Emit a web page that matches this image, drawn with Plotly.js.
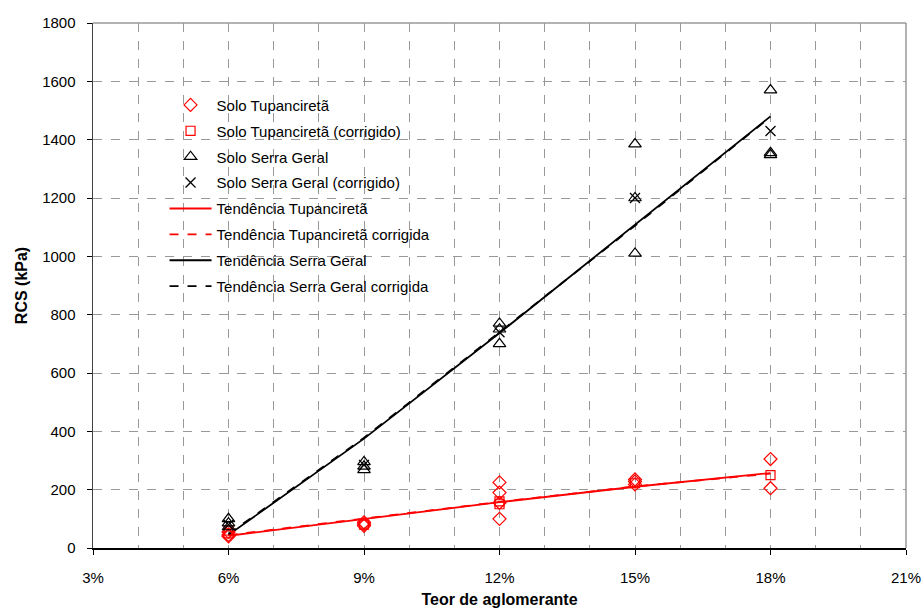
<!DOCTYPE html>
<html>
<head>
<meta charset="utf-8">
<script src="https://cdn.plot.ly/plotly-3.0.1.min.js"></script>
<style>html,body{margin:0;padding:0;background:#fff;}#chart{width:924px;height:612px;}</style>
</head>
<body>
<div id="chart"></div>
<script>
// Data
var tupX = [0.06, 0.06, 0.06, 0.09, 0.09, 0.09, 0.12, 0.12, 0.12, 0.12, 0.15, 0.15, 0.15, 0.18, 0.18];
var tupY = [55, 45, 40, 88, 82, 76, 225, 190, 155, 100, 235, 228, 218, 305, 205];
var tupCorrX = [0.06, 0.06, 0.09, 0.12, 0.12, 0.15, 0.18];
var tupCorrY = [60, 50, 80, 160, 150, 222, 250];
var sgX = [0.06, 0.06, 0.06, 0.09, 0.09, 0.09, 0.12, 0.12, 0.12, 0.15, 0.15, 0.15, 0.18, 0.18, 0.18];
var sgY = [100, 85, 72, 295, 280, 268, 770, 750, 700, 1385, 1200, 1010, 1570, 1355, 1348];
var sgCorrX = [0.06, 0.09, 0.12, 0.15, 0.18];
var sgCorrY = [80, 285, 740, 1200, 1430];

var trendX = [0.06, 0.09, 0.12, 0.15, 0.18];
var trendTup = [42, 100, 157, 210, 257];
var trendTupCorr = [44, 102, 158, 211, 255];
var trendSG = [45, 375, 737, 1108, 1480];
var trendSGCorr = [48, 378, 740, 1105, 1478];

var names = ["Solo Tupanciretã", "Solo Tupanciretã (corrigido)", "Solo Serra Geral", "Solo Serra Geral (corrigido)",
  "Tendência Tupanciretã", "Tendência Tupanciretã corrigida", "Tendência Serra Geral", "Tendência Serra Geral corrigida"];

var data = [
  {x: trendX, y: trendTup, mode: "lines", name: names[4], legendrank: 5, legendgroup: "g5",
   line: {color: "#ff0000", width: 1.8}},
  {x: trendX, y: trendTupCorr, mode: "lines", name: names[5], legendrank: 6, legendgroup: "g6",
   line: {color: "#ff0000", width: 1.8, dash: "dash"}},
  {x: trendX, y: trendSG, mode: "lines", name: names[6], legendrank: 7, legendgroup: "g7",
   line: {color: "#000000", width: 1.8}},
  {x: trendX, y: trendSGCorr, mode: "lines", name: names[7], legendrank: 8, legendgroup: "g8",
   line: {color: "#000000", width: 1.8, dash: "dash"}},
  {x: tupX, y: tupY, mode: "markers", name: names[0], legendrank: 1, legendgroup: "g1",
   marker: {symbol: "diamond-open", size: 10, color: "#ff0000", line: {width: 1.2}}},
  {x: tupCorrX, y: tupCorrY, mode: "markers", name: names[1], legendrank: 2, legendgroup: "g2",
   marker: {symbol: "square-open", size: 9, color: "#ff0000", line: {width: 1.2}}},
  {x: sgX, y: sgY, mode: "markers", name: names[2], legendrank: 3, legendgroup: "g3",
   marker: {symbol: "triangle-up-open", size: 11, color: "#000000", line: {width: 1.2}}},
  {x: sgCorrX, y: sgCorrY, mode: "markers", name: names[3], legendrank: 4, legendgroup: "g4",
   marker: {symbol: "x-thin-open", size: 10, color: "#000000", line: {width: 1.3}}}
];

var font = "Liberation Sans, Arial, sans-serif";
var layout = {
  width: 924, height: 612,
  margin: {l: 93, r: 18, t: 23, b: 64},
  paper_bgcolor: "#ffffff", plot_bgcolor: "#ffffff",
  font: {family: font, size: 15, color: "#000000"},
  showlegend: true,
  legend: {x: 0.088, y: 0.875, xanchor: "left", yanchor: "top", bgcolor: "rgba(0,0,0,0)",
    font: {family: font, size: 15, color: "#000000"}, tracegroupgap: 3.4, itemwidth: 42},
  xaxis: {
    range: [0.03, 0.21], dtick: 0.03, tick0: 0.03, tickformat: ".0%",
    showgrid: true, gridcolor: "#999999", griddash: "dash", gridwidth: 1,
    minor: {dtick: 0.01, showgrid: true, gridcolor: "#999999", griddash: "dash", gridwidth: 1, ticks: ""},
    showline: true, linecolor: "#000000", linewidth: 1.5,
    ticks: "outside", ticklen: 5, tickcolor: "#000000", ticklabelstandoff: 10,
    zeroline: false, fixedrange: true,
    tickfont: {family: font, size: 15, color: "#000000"},
    title: {text: "<b>Teor de aglomerante</b>", font: {family: font, size: 16, color: "#000000"}, standoff: 9}
  },
  yaxis: {
    range: [0, 1800], dtick: 200, tick0: 0,
    showgrid: true, gridcolor: "#999999", griddash: "dash", gridwidth: 1,
    showline: true, linecolor: "#404040", linewidth: 1.5,
    ticks: "outside", ticklen: 5, tickcolor: "#000000", ticklabelstandoff: 8,
    zeroline: false, fixedrange: true,
    tickfont: {family: font, size: 15, color: "#000000"},
    title: {text: "<b>RCS (kPa)</b>", font: {family: font, size: 16, color: "#000000"}, standoff: 10}
  },
  shapes: [
    {type: "line", xref: "paper", yref: "paper", x0: 0, x1: 1, y0: 1, y1: 1, line: {color: "#999999", width: 1.5}},
    {type: "line", xref: "paper", yref: "paper", x0: 1, x1: 1, y0: 0, y1: 1, line: {color: "#999999", width: 1.5}}
  ]
};

Plotly.newPlot("chart", data, layout, {displayModeBar: false, staticPlot: true});
</script>
</body>
</html>
